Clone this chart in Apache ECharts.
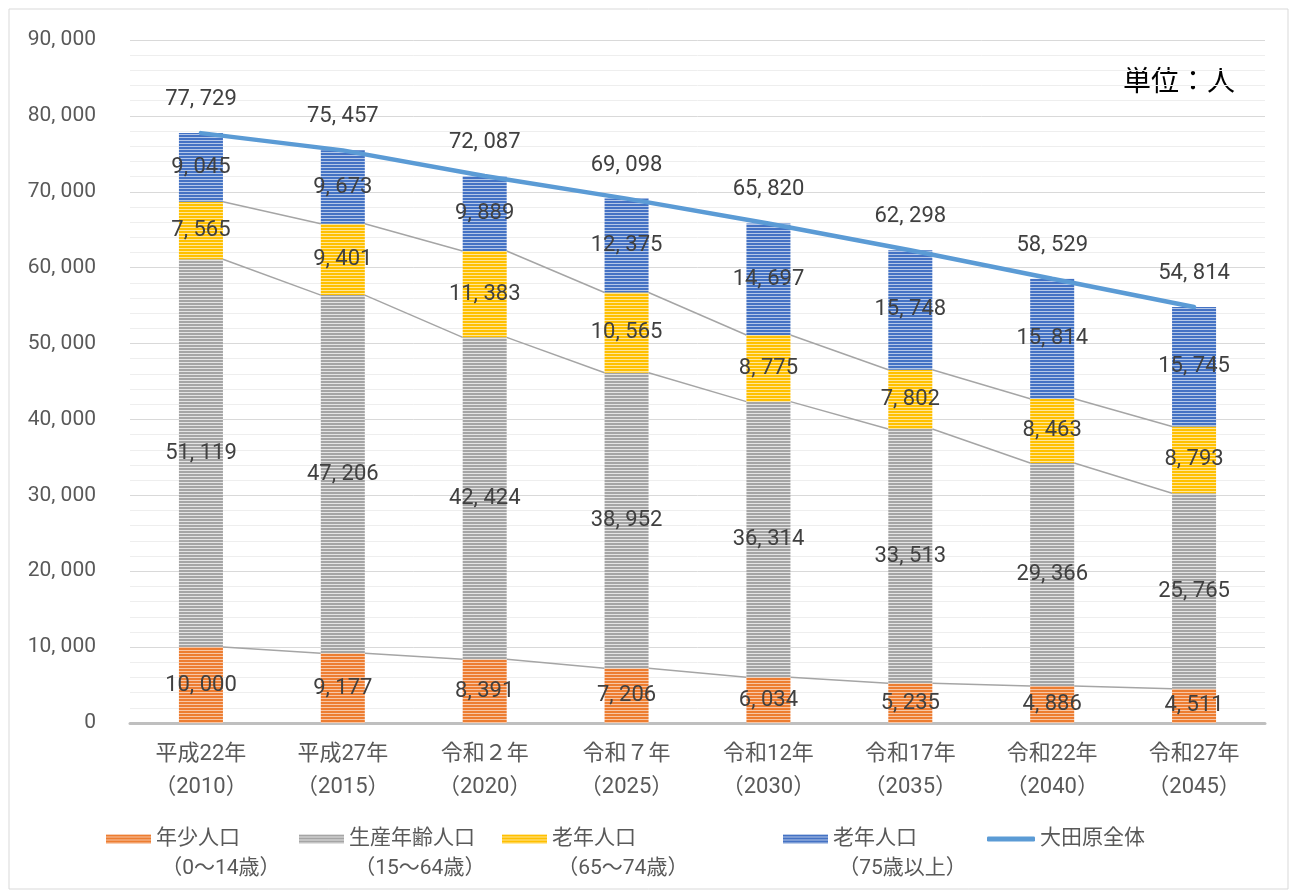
<!DOCTYPE html>
<html><head><meta charset="utf-8">
<script src="https://cdn.jsdelivr.net/npm/echarts@6/dist/echarts.min.js"></script>
<style>html,body{margin:0;padding:0;background:#fff}#c{width:1295px;height:892px}</style>
</head><body><div id="c"></div>
<script>
const categories = ['平成22年\n（2010）','平成27年\n（2015）','令和２年\n（2020）','令和７年\n（2025）','令和12年\n（2030）','令和17年\n（2035）','令和22年\n（2040）','令和27年\n（2045）'];
const seriesNames = ['年少人口\n （0〜14歳）','生産年齢人口\n （15〜64歳）','老年人口\n （65〜74歳）','老年人口\n （75歳以上）','大田原全体'];
const young = [10000, 9177, 8391, 7206, 6034, 5235, 4886, 4511];
const working = [51119, 47206, 42424, 38952, 36314, 33513, 29366, 25765];
const old65 = [7565, 9401, 11383, 10565, 8775, 7802, 8463, 8793];
const old75 = [9045, 9673, 9889, 12375, 14697, 15748, 15814, 15745];
const total = [77729, 75457, 72087, 69098, 65820, 62298, 58529, 54814];
const yTicks = {min: 0, max: 90000, interval: 10000};

const NUMFONT = "Roboto,'Noto Sans CJK JP',sans-serif";
const BAR_W = 44;
function fmt(v){ return String(v).replace(/\B(?=(\d{3})+(?!\d))/g, ', '); }
function stripe(base, light){
  const c = document.createElement('canvas'); c.width = 4; c.height = 3;
  const g = c.getContext('2d');
  g.fillStyle = base; g.fillRect(0,0,4,3);
  g.fillStyle = light; g.fillRect(0,2,4,1);
  return {image: c, repeat: 'repeat'};
}
const fills = [stripe('#ed7d31','#f8c6a5'), stripe('#a5a5a5','#e4e4e4'), stripe('#ffc000','#ffe699'), stripe('#4472c4','#b4c7e7')];
const stacks = [young, working, old65, old75];
const cum = [];
let run = young.map(()=>0);
stacks.forEach(s => { run = run.map((r,i)=>r + s[i]); cum.push(run.slice()); });

const chart = echarts.init(document.getElementById('c'));
const barSeries = stacks.map((arr, k) => ({
  name: seriesNames[k], type: 'bar', stack: 'pop', data: arr, barWidth: BAR_W,
  itemStyle: {color: fills[k]},
  label: {show: true, position: 'inside', formatter: p => fmt(p.value), fontFamily: NUMFONT, fontSize: 22, color: '#404040'},
  z: 2
}));
const connector = {
  type: 'custom', silent: true, z: 1,
  data: categories.map((c,i)=>[i, cum[0][i], cum[1][i], cum[2][i]]),
  encode: {x: 0, y: [1,2,3]},
  renderItem: function(params, api){
    const i = api.value(0);
    if (i >= categories.length - 1) return null;
    const kids = [];
    for (let k = 0; k < 3; k++) {
      const p0 = api.coord([i, cum[k][i]]);
      const p1 = api.coord([i+1, cum[k][i+1]]);
      kids.push({type:'line', shape:{x1:p0[0]+BAR_W/2, y1:p0[1], x2:p1[0]-BAR_W/2, y2:p1[1]}, style:{stroke:'#a5a5a5', lineWidth:1.5}});
    }
    return {type:'group', children: kids};
  }
};
const lineSeries = {
  name: seriesNames[4], type: 'line', data: total, symbol: 'circle', symbolSize: 1, showSymbol: true, z: 5,
  lineStyle: {color: '#5b9bd5', width: 4.5, cap: 'round'}, itemStyle: {color: '#5b9bd5'},
  label: {show: true, position: 'top', distance: 22, formatter: p => fmt(p.value), fontFamily: NUMFONT, fontSize: 22, color: '#404040'}
};
const legendLeft = [106, 299, 502, 783, 987];
const legends = seriesNames.map((n, k) => ({
  data: [k < 4 ? {name: n, icon: 'rect'} : {name: n, icon: 'roundRect'}],
  left: legendLeft[k], top: k < 4 ? 794 : 824, orient: 'horizontal', padding: 0, itemGap: 0,
  itemWidth: k < 4 ? 45 : 48, itemHeight: k < 4 ? 9 : 5,
  selectedMode: false,
  formatter: k < 4 ? (name => '\u3000\n' + name) : undefined,
  textStyle: {fontFamily: NUMFONT, fontSize: 21, color: '#595959', lineHeight: 30}
}));

chart.setOption({
  animation: false,
  backgroundColor: '#fff',
  grid: {left: 130, right: 30, top: 40, bottom: 169, containLabel: false},
  legend: legends,
  xAxis: {type: 'category', data: categories,
    axisLine: {lineStyle: {color: '#bfbfbf', width: 3}}, axisTick: {show: false},
    axisLabel: {fontFamily: NUMFONT, fontSize: 22, color: '#595959', lineHeight: 33, margin: 15, interval: 0}},
  yAxis: {type: 'value', min: yTicks.min, max: yTicks.max, interval: yTicks.interval,
    axisLine: {show: false}, axisTick: {show: false},
    axisLabel: {formatter: v => fmt(v), fontFamily: NUMFONT, fontSize: 21, color: '#595959', margin: 34},
    splitLine: {lineStyle: {color: '#d9d9d9', width: 1}},
    minorTick: {show: false, splitNumber: 5},
    minorSplitLine: {show: true, lineStyle: {color: '#eeeeee', width: 1}}},
  graphic: [
    {type: 'rect', shape: {x: 9, y: 9, width: 1279, height: 880}, style: {fill: 'none', stroke: '#d9d9d9', lineWidth: 1}, z: -10},
    {type: 'text', left: 1123, top: 66, style: {text: '単位：人', font: "28px 'Noto Sans CJK JP'", fill: '#000'}}
  ],
  series: [...barSeries, connector, lineSeries]
});
</script></body></html>
